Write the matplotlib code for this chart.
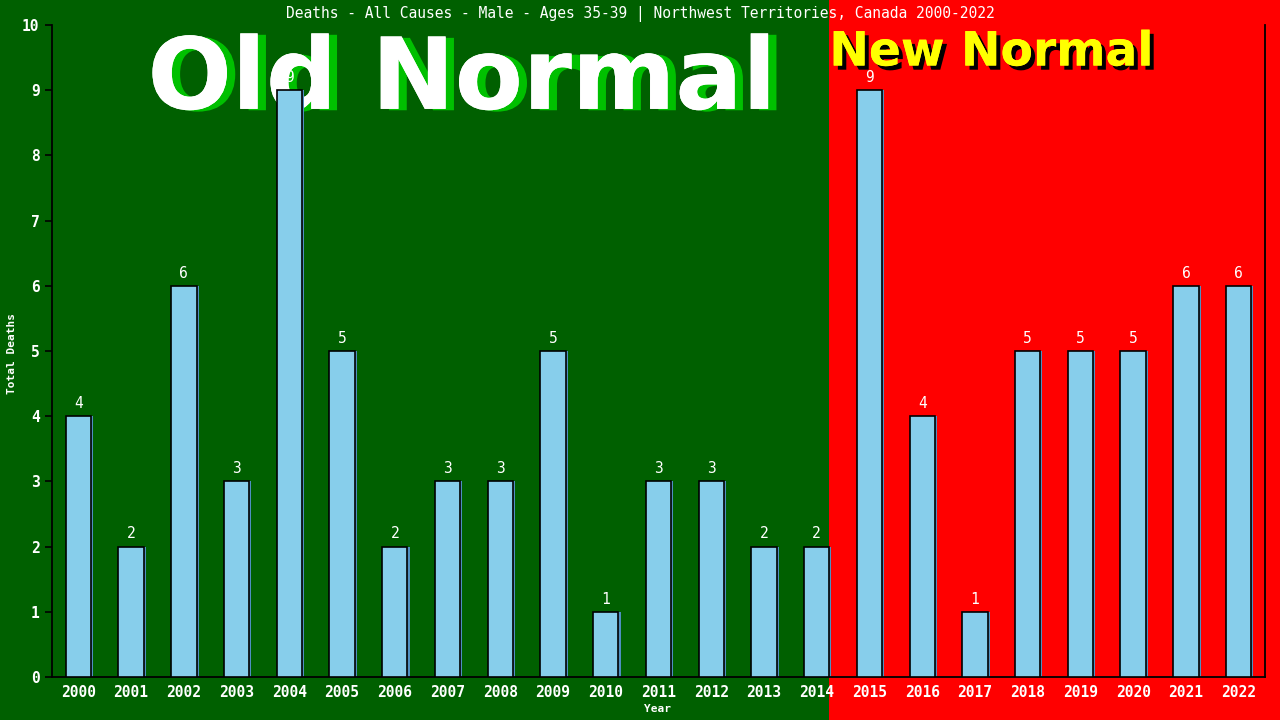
import matplotlib.pyplot as plt
from matplotlib.patches import Rectangle
import matplotlib.patheffects as pe

years = [str(y) for y in range(2000, 2023)]
deaths = [4, 2, 6, 3, 9, 5, 2, 3, 3, 5, 1, 3, 3, 2, 2, 9, 4, 1, 5, 5, 5, 6, 6]
split_year = '2014'
title = 'Deaths - All Causes - Male - Ages 35-39 | Northwest Territories, Canada 2000-2022'

MONO = 'DejaVu Sans Mono'
BAR_W = 0.48

fig = plt.figure(figsize=(12.8, 7.2), dpi=100)
ax = fig.add_axes([52 / 1280, 43 / 720, 1213 / 1280, 652 / 720])
ax.set_facecolor('none')

x = list(range(len(years)))
ax.set_xlim(-0.5, len(years) - 0.5)
ax.set_ylim(0, 10)

# background split at the right edge of the last "old normal" bar
split_x = years.index(split_year) + BAR_W / 2
fig.canvas.draw()
px = ax.transData.transform((split_x, 0))[0]
fx = fig.transFigure.inverted().transform((px, 0))[0]
fig.patches.append(Rectangle((0, 0), fx, 1, transform=fig.transFigure,
                             facecolor='#006000', edgecolor='none', zorder=-10))
fig.patches.append(Rectangle((fx, 0), 1 - fx, 1, transform=fig.transFigure,
                             facecolor='#ff0000', edgecolor='none', zorder=-10))

# big labels, drawn behind the bars
ax.text(462 / 1280, 0.887, 'Old Normal', ha='center', va='center', transform=fig.transFigure,
        fontsize=71.5, fontweight='bold', color='white', family='DejaVu Sans', zorder=1,
        clip_on=False,
        path_effects=[pe.withSimplePatchShadow(offset=(6, -1), shadow_rgbFace='#00c000', alpha=1),
                      pe.Normal()])
ax.text(split_x, 9.57, 'New Normal', ha='left', va='center',
        fontsize=34, fontweight='bold', color='#ffff00', family='DejaVu Sans', zorder=1,
        path_effects=[pe.withSimplePatchShadow(offset=(3, -3), shadow_rgbFace='black', alpha=1),
                      pe.Normal()])

# bars with a blue shadow edge on the right
ax.bar([v + 0.04 for v in x], deaths, width=BAR_W, color='#4f8fc0', edgecolor='none', zorder=2)
ax.bar(x, deaths, width=BAR_W, color='#87ceeb', edgecolor='black', linewidth=1.2, zorder=3)

for xi, d in zip(x, deaths):
    ax.text(xi, d + 0.08, str(d), ha='center', va='bottom', color='white',
            fontsize=10.5, family=MONO, zorder=4)

fig.text(0.5, 0.981, title, ha='center', va='center', color='white',
         fontsize=10.5, family=MONO)

ax.set_xticks(x)
ax.set_xticklabels(years)
ax.set_yticks(range(0, 11))
ax.tick_params(axis='x', length=0, pad=6, labelsize=10.5)
ax.tick_params(axis='y', length=5, width=1.2, color='black', labelsize=10.5, pad=4)
for lab in ax.get_xticklabels() + ax.get_yticklabels():
    lab.set_family(MONO)
    lab.set_fontweight('bold')
    lab.set_color('white')

for side in ['left', 'bottom', 'right']:
    ax.spines[side].set_color('black')
    ax.spines[side].set_linewidth(1.3)
ax.spines['top'].set_visible(False)

fig.text(12 / 1280, 1 - 353 / 720, 'Total Deaths', rotation=90, ha='center', va='center',
         color='white', fontsize=8, fontweight='bold', family=MONO)
fig.text(657 / 1280, 1 - 709 / 720, 'Year', ha='center', va='center',
         color='white', fontsize=8, fontweight='bold', family=MONO)

fig.savefig('out.png', dpi=100)
